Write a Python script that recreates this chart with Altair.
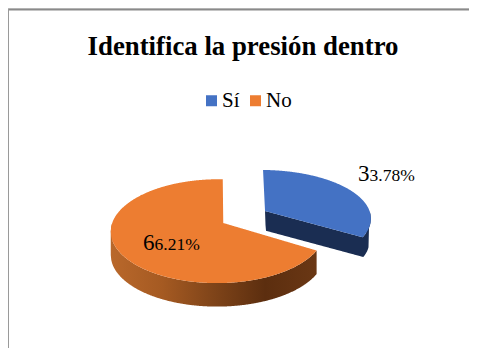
import numpy as np
import pandas as pd
import altair as alt

TITLE = "Identifica la presión dentro"
CATEGORIES = ["Sí", "No"]
SHARES = [33.78, 66.21]
COLORS = ["#4472C4", "#ED7D31"]
BLUE_SIDE = "#1A2D52"
ORANGE_SIDE = ["#B9682B", "#A55A22", "#7F4419", "#5C2E0F", "#6A3714"]

W, H = 461, 340
OX, OY = 8, 8

BLUE_VIEW = dict(x0=265.0, y0=211.0, a=109.0, b=47.7, k=0.163, m=0.0426)
ORANGE_VIEW = dict(x0=222.3, y0=222.7, a=105.3, b=50.5, k=0.163, m=0.0426)


def rim(view, t0, t1, n=240):
    t = np.radians(np.linspace(t0, t1, n))
    u, v = np.sin(t), np.cos(t)
    w = 1 + view["k"] * v + view["m"] * u
    return np.c_[view["x0"] + view["a"] * u / w, view["y0"] - view["b"] * v / w]


def to_area(poly, step=0.5):
    """Turn an x-monotone polygon into (x, y_top, y_bottom) rows for an area mark."""
    p = np.asarray(poly)
    q = np.roll(p, -1, axis=0)
    xs = np.unique(np.r_[np.arange(p[:, 0].min(), p[:, 0].max(), step), p[:, 0].max()])
    rows = []
    for x in xs:
        mask = (np.minimum(p[:, 0], q[:, 0]) <= x) & (x <= np.maximum(p[:, 0], q[:, 0])) & (p[:, 0] != q[:, 0])
        if not mask.any():
            continue
        ys = p[mask, 1] + (x - p[mask, 0]) * (q[mask, 1] - p[mask, 1]) / (q[mask, 0] - p[mask, 0])
        rows.append((x, ys.min(), ys.max()))
    return pd.DataFrame(rows, columns=["x", "y", "y2"])


blue_end = SHARES[0] / 100 * 360
orange_end = 360

# Faces
blue_rim = rim(BLUE_VIEW, -1.2, blue_end)
blue_face = np.vstack([[BLUE_VIEW["x0"], BLUE_VIEW["y0"]], blue_rim])
orange_rim = rim(ORANGE_VIEW, blue_end, orange_end + 0.5)
orange_face = np.vstack([[ORANGE_VIEW["x0"], ORANGE_VIEW["y0"]], orange_rim])

# Sides
blue_front = rim(BLUE_VIEW, 90, blue_end)
blue_edge = np.vstack([[BLUE_VIEW["x0"], BLUE_VIEW["y0"]], blue_front[::-1]])
blue_low = blue_edge + np.linspace(0.7, -3.4, len(blue_edge))[:, None] * [1, 0] + np.linspace(19.7, 22, len(blue_edge))[:, None] * [0, 1]
blue_side = np.vstack([blue_edge, blue_low[::-1]])
orange_front = rim(ORANGE_VIEW, blue_end, 270)
orange_side = np.vstack([orange_front, orange_front[::-1] + [0, 23.5]])

df_face = pd.concat([
    to_area(blue_face).assign(cat=CATEGORIES[0]),
    to_area(orange_face).assign(cat=CATEGORIES[1]),
])

xs = alt.Scale(domain=[OX, OX + W], range=[0, W], nice=False, zero=False)
ys = alt.Scale(domain=[OY, OY + H], range=[0, H], nice=False, zero=False)


def X(f="x"):
    return alt.X(f"{f}:Q", scale=xs, axis=None)


def Y(f="y"):
    return alt.Y(f"{f}:Q", scale=ys, axis=None)


side_blue = alt.Chart(to_area(blue_side)).mark_area(color=BLUE_SIDE, interpolate="linear").encode(
    x=X(), y=Y(), y2="y2:Q")
side_orange = alt.Chart(to_area(orange_side)).mark_area(
    interpolate="linear",
    color=alt.Gradient(
        gradient="linear", x1=0, x2=1, y1=0, y2=0,
        stops=[alt.GradientStop(offset=i / (len(ORANGE_SIDE) - 1), color=c) for i, c in enumerate(ORANGE_SIDE)],
    ),
).encode(x=X(), y=Y(), y2="y2:Q")

faces = alt.Chart(df_face).mark_area(interpolate="linear").encode(
    x=X(), y=Y(), y2="y2:Q",
    detail="cat:N",
    color=alt.Color(
        "cat:N",
        scale=alt.Scale(domain=CATEGORIES, range=COLORS),
        sort=CATEGORIES,
        legend=alt.Legend(
            title=None, orient="none", legendX=193, legendY=82, direction="horizontal",
            symbolType="square", symbolSize=121, symbolStrokeWidth=0, symbolOpacity=1,
            labelFont="Liberation Serif", labelFontSize=21, labelColor="#000000",
            columnPadding=5, labelOffset=0, padding=0,
        ),
    ),
)

labels = [f"{s:.2f}%" for s in SHARES]
big = pd.DataFrame({"x": [369.5, 154.5], "y": [180.5, 250.0], "t": [l[0] for l in labels]})
small = pd.DataFrame({"x": [369.5, 154.5], "y": [180.5, 250.0], "t": [l[1:] for l in labels]})
lab_big = alt.Chart(big).mark_text(font="Liberation Serif", fontSize=23, align="right", baseline="alphabetic", color="#000000").encode(
    x=X(), y=Y(), text="t:N")
lab_small = alt.Chart(small).mark_text(font="Liberation Serif", fontSize=17.5, align="left", baseline="alphabetic", color="#000000").encode(
    x=X(), y=Y(), text="t:N")

title = alt.Chart(pd.DataFrame({"x": [243.0], "y": [55.0], "t": [TITLE]})).mark_text(
    font="Liberation Serif", fontSize=26.8, fontWeight="bold", align="center", baseline="alphabetic", color="#000000"
).encode(x=X(), y=Y(), text="t:N")

frame_top = alt.Chart(pd.DataFrame({"x": [8.0], "x2": [469.0], "y": [9.5]})).mark_rule(color="#8A8A8A", strokeWidth=2).encode(
    x=X(), x2="x2:Q", y=Y())
frame_left = alt.Chart(pd.DataFrame({"x": [8.5], "y": [9.0], "y2": [348.0]})).mark_rule(color="#9A9A9A", strokeWidth=1).encode(
    x=X(), y=Y(), y2="y2:Q")

chart = alt.layer(
    frame_top, frame_left, side_blue, side_orange, faces, lab_big, lab_small, title
).properties(width=W, height=H, padding=0).configure_view(stroke=None).configure(autosize=alt.AutoSizeParams(type="none"))

chart.save("out.html", embed_options={"renderer": "svg", "actions": False})
